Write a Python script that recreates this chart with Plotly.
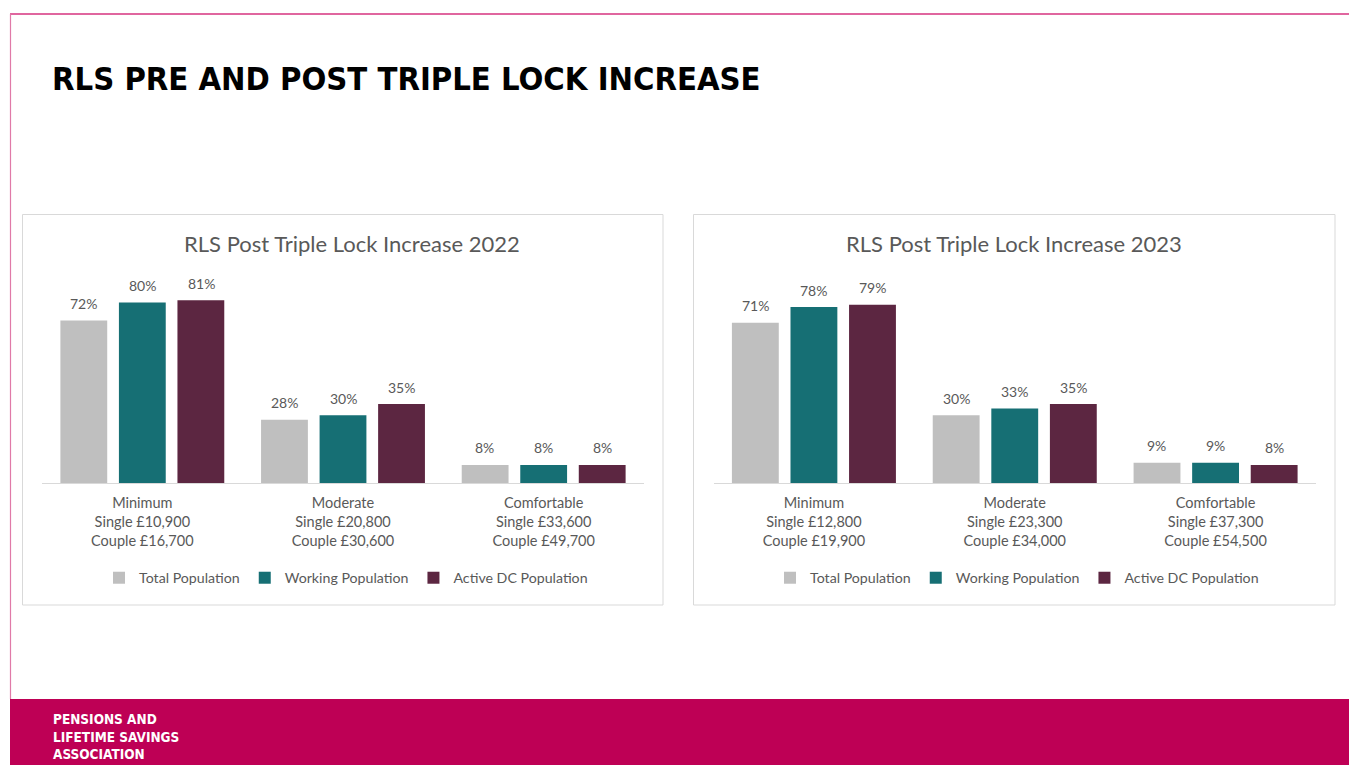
import plotly.graph_objects as go

W, H = 1349, 765

categories_2022 = ["Minimum<br>Single £10,900<br>Couple £16,700",
                   "Moderate<br>Single £20,800<br>Couple £30,600",
                   "Comfortable<br>Single £33,600<br>Couple £49,700"]
categories_2023 = ["Minimum<br>Single £12,800<br>Couple £19,900",
                   "Moderate<br>Single £23,300<br>Couple £34,000",
                   "Comfortable<br>Single £37,300<br>Couple £54,500"]
series_names = ["Total Population", "Working Population", "Active DC Population"]
series_colors = ["#BFBFBF", "#166F74", "#5C2641"]
values_2022 = {
    "Total Population": [72, 28, 8],
    "Working Population": [80, 30, 8],
    "Active DC Population": [81, 35, 8],
}
values_2023 = {
    "Total Population": [71, 30, 9],
    "Working Population": [78, 33, 9],
    "Active DC Population": [79, 35, 8],
}
chart_titles = ["RLS Post Triple Lock Increase 2022", "RLS Post Triple Lock Increase 2023"]
main_title = "RLS PRE AND POST TRIPLE LOCK INCREASE"
logo_lines = ["PENSIONS AND", "LIFETIME SAVINGS", "ASSOCIATION"]

TXT = "#595959"
FONT = "Lato"
SLOT_PX = 58.7  # pixel spacing between bars inside a group

def px(x):
    return x / W

def py(y):
    return 1 - y / H

fig = go.Figure()
ann = []

for panel, (cats, vals, xa, ya, lg) in enumerate([
        (categories_2022, values_2022, "x", "y", "legend"),
        (categories_2023, values_2023, "x2", "y2", "legend2")]):
    for i, name in enumerate(series_names):
        fig.add_trace(go.Bar(
            x=cats, y=vals[name], name=name,
            marker=dict(color=series_colors[i], line=dict(width=0)),
            xaxis=xa, yaxis=ya, legend=lg, hoverinfo="skip"))
        for c, v in zip(cats, vals[name]):
            ann.append(dict(x=c, y=v, xref=xa, yref=ya, text=f"{v}%",
                            xshift=(i - 1) * SLOT_PX, yshift=17, yanchor="middle",
                            showarrow=False, font=dict(family=FONT, size=14, color=TXT)))

ydom = [py(483), py(280)]
axis_common = dict(showgrid=False, zeroline=False, showline=True, linecolor="#D9D9D9",
                   linewidth=1, ticks="", ticklabelstandoff=7,
                   tickfont=dict(family=FONT, size=14.5, color=TXT), fixedrange=True)
legend_common = dict(orientation="h", yanchor="middle", itemwidth=30,
                     font=dict(family=FONT, size=14.2, color=TXT), bgcolor="rgba(0,0,0,0)")
fig.update_layout(
    width=W, height=H, margin=dict(l=0, r=0, t=0, b=0),
    paper_bgcolor="white", plot_bgcolor="rgba(0,0,0,0)",
    barmode="group", bargap=0.125, bargroupgap=0.2,
    showlegend=True,
    xaxis=dict(domain=[px(42), px(644)], anchor="y", **axis_common),
    yaxis=dict(domain=ydom, range=[0, 90], visible=False, fixedrange=True),
    xaxis2=dict(domain=[px(713.5), px(1316)], anchor="y2", **axis_common),
    yaxis2=dict(domain=ydom, range=[0, 90], visible=False, fixedrange=True),
    legend=dict(x=px(346), y=py(578), xanchor="center", **legend_common),
    legend2=dict(x=px(1017), y=py(578), xanchor="center", **legend_common),
    font=dict(family=FONT, color=TXT),
)

shapes = [
    dict(type="rect", x0=px(10), x1=1, y0=0, y1=py(699), fillcolor="#BE0055", line=dict(width=0), layer="below"),
    dict(type="line", x0=px(10), x1=1, y0=py(14), y1=py(14), line=dict(color="#D6337F", width=1.5)),
    dict(type="line", x0=px(10.5), x1=px(10.5), y0=py(14), y1=py(699), line=dict(color="#E07AA8", width=1.2)),
    dict(type="rect", x0=px(22.5), x1=px(663), y0=py(605), y1=py(214.5), line=dict(color="#D9D9D9", width=1), layer="below"),
    dict(type="rect", x0=px(693.5), x1=px(1335), y0=py(605), y1=py(214.5), line=dict(color="#D9D9D9", width=1), layer="below"),
]
for s in shapes:
    s.update(xref="paper", yref="paper")
fig.update_layout(shapes=shapes)

page_ann = [
    dict(text=f"<b>{main_title}</b>", x=px(50), y=py(79), xanchor="left", yanchor="middle",
         font=dict(family="DejaVu Sans Condensed", size=32.5, color="#000000")),
    dict(text=chart_titles[0], x=px(352), y=py(244), xanchor="center", yanchor="middle",
         font=dict(family=FONT, size=22, color=TXT)),
    dict(text=chart_titles[1], x=px(1014), y=py(244), xanchor="center", yanchor="middle",
         font=dict(family=FONT, size=22, color=TXT)),
    dict(text="<b>" + "<br>".join(logo_lines) + "</b>", x=px(51), y=py(736), xanchor="left", yanchor="middle",
         align="left", font=dict(family="DejaVu Sans Condensed", size=13.5, color="white")),
]
for a in page_ann:
    a.update(xref="paper", yref="paper", showarrow=False)
fig.update_layout(annotations=ann + page_ann)

fig.write_html("out.html", config={"displayModeBar": False})
